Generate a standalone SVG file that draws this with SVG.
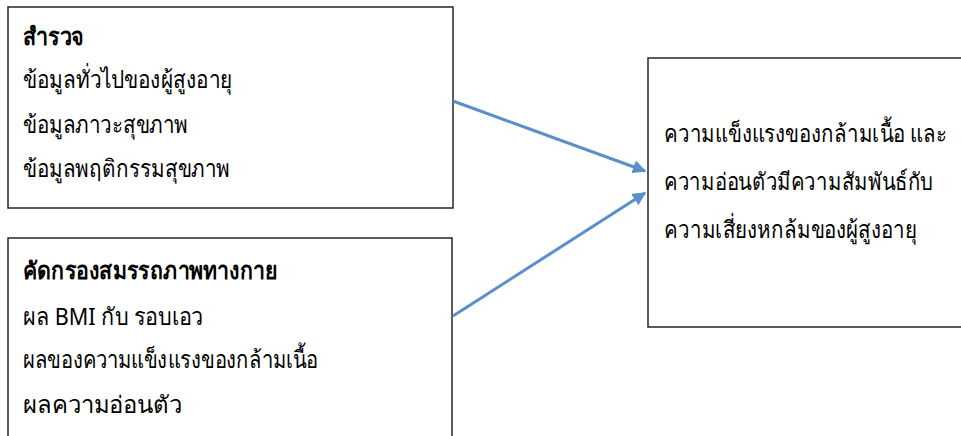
<svg xmlns="http://www.w3.org/2000/svg" width="961" height="436" viewBox="0 0 961 436">
  <style>
    .box { fill: #ffffff; stroke: #262626; stroke-width: 1.5; }
    .edge { fill: none; stroke: #262626; stroke-width: 1.5; }
    .t { font-family: "Noto Sans", "DejaVu Sans", sans-serif; font-size: 24px; fill: #000000; }
    .b { font-weight: bold; }
    .link { fill: none; stroke: #5b8fcb; stroke-width: 3; }
  </style>
  <defs>
    <marker id="arrow" viewBox="0 0 10 10" refX="9" refY="5" markerWidth="4.5" markerHeight="4.5" orient="auto" markerUnits="strokeWidth">
      <path d="M0,0 L10,5 L0,10 z" fill="#5b8fcb"/>
    </marker>
  </defs>
  <rect width="961" height="436" fill="#ffffff"/>

  <g id="survey">
    <rect class="box" x="8" y="7" width="445" height="201"/>
    <text class="t b" x="23" y="45" textLength="61" lengthAdjust="spacingAndGlyphs">สำรวจ</text>
    <text class="t" x="23" y="88" textLength="209" lengthAdjust="spacingAndGlyphs">ข้อมูลทั่วไปของผู้สูงอายุ</text>
    <text class="t" x="23" y="133" textLength="165" lengthAdjust="spacingAndGlyphs">ข้อมูลภาวะสุขภาพ</text>
    <text class="t" x="23" y="177" textLength="207" lengthAdjust="spacingAndGlyphs">ข้อมูลพฤติกรรมสุขภาพ</text>
  </g>

  <g id="screening">
    <!-- box runs past the bottom edge of the canvas -->
    <path class="edge" d="M8,436 V238 H452 V436" fill="#ffffff"/>
    <text class="t b" x="23" y="279" textLength="254" lengthAdjust="spacingAndGlyphs">คัดกรองสมรรถภาพทางกาย</text>
    <text class="t" x="23" y="325" textLength="180" lengthAdjust="spacingAndGlyphs">ผล BMI กับ รอบเอว</text>
    <text class="t" x="23" y="368" textLength="295" lengthAdjust="spacingAndGlyphs">ผลของความแข็งแรงของกล้ามเนื้อ</text>
    <text class="t" x="23" y="413" textLength="159" lengthAdjust="spacingAndGlyphs">ผลความอ่อนตัว</text>
  </g>

  <g id="outcome">
    <!-- box runs past the right edge of the canvas -->
    <path class="edge" d="M961,58 H648 V327 H961"/>
    <g transform="translate(664,0) scale(0.86,1)">
      <text class="t" x="0" y="142" textLength="329" lengthAdjust="spacingAndGlyphs">ความแข็งแรงของกล้ามเนื้อ และ</text>
      <text class="t" x="0" y="190" textLength="313" lengthAdjust="spacingAndGlyphs">ความอ่อนตัวมีความสัมพันธ์กับ</text>
      <text class="t" x="0" y="238" textLength="294" lengthAdjust="spacingAndGlyphs">ความเสี่ยงหกล้มของผู้สูงอายุ</text>
    </g>
  </g>

  <g id="connectors">
    <line class="link" x1="453" y1="101" x2="645" y2="171" marker-end="url(#arrow)"/>
    <line class="link" x1="453" y1="316" x2="645" y2="193" marker-end="url(#arrow)"/>
  </g>
</svg>
